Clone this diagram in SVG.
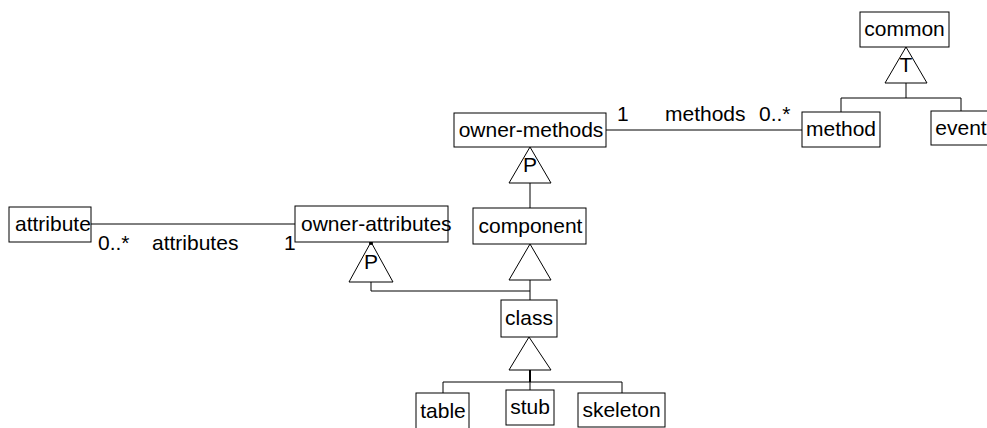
<svg xmlns="http://www.w3.org/2000/svg" width="987" height="428" viewBox="0 0 987 428">
  <style>
    .box { fill: #ffffff; stroke: #000000; stroke-width: 1; }
    .ln { fill: none; stroke: #000000; stroke-width: 1; }
    .tri { fill: #ffffff; stroke: #000000; stroke-width: 1; }
    text { font-family: "Liberation Sans", Arial, sans-serif; font-size: 21px; fill: #000000; }
    .c { text-anchor: middle; }
  </style>
  <rect width="987" height="428" fill="#ffffff"/>

  <!-- connectors -->
  <g id="connectors">
    <!-- common generalisation (T) -->
    <polygon class="tri" points="906,47 885,83 927,83"/>
    <text class="c" x="906" y="72">T</text>
    <polyline class="ln" points="906,83 906,98"/>
    <polyline class="ln" points="841,112 841,98 961,98 961,111"/>

    <!-- methods association -->
    <line class="ln" x1="606" y1="130" x2="802" y2="130"/>
    <text x="617" y="121">1</text>
    <text x="665" y="121">methods</text>
    <text x="759" y="121">0..*</text>

    <!-- owner-methods generalisation (P) -->
    <polygon class="tri" points="530,147 509,183 551,183"/>
    <text class="c" x="530" y="172">P</text>
    <line class="ln" x1="530" y1="183" x2="530" y2="208"/>

    <!-- attributes association -->
    <line class="ln" x1="91" y1="224" x2="295" y2="224"/>
    <text x="98" y="250">0..*</text>
    <text x="152" y="250">attributes</text>
    <text x="284" y="250">1</text>

    <!-- owner-attributes generalisation (P) -->
    <polygon class="tri" points="371,242 349,282 393,282"/>
    <circle cx="371" cy="243" r="2" fill="#000000"/>
    <text class="c" x="371" y="269">P</text>
    <polyline class="ln" points="371,282 371,291 530,291"/>

    <!-- component generalisation -->
    <polygon class="tri" points="530,244 509,280 551,280"/>
    <line class="ln" x1="530" y1="280" x2="530" y2="300"/>

    <!-- class generalisation -->
    <polygon class="tri" points="529,337 509,370 551,370"/>
    <line x1="530" y1="370" x2="530" y2="382" stroke="#000000" stroke-width="2"/>
    <polyline class="ln" points="443,393 443,382 622,382 622,393"/>
    <line class="ln" x1="530" y1="382" x2="530" y2="390"/>
  </g>

  <g id="common">
    <rect class="box" x="860" y="12" width="89" height="35"/>
    <text class="c" x="904.5" y="36">common</text>
  </g>
  <g id="method">
    <rect class="box" x="802" y="112" width="78" height="35"/>
    <text class="c" x="841" y="136">method</text>
  </g>
  <g id="event">
    <rect class="box" x="931" y="111" width="60" height="34"/>
    <text class="c" x="961" y="135">event</text>
  </g>
  <g id="owner-methods">
    <rect class="box" x="454" y="113" width="152" height="34"/>
    <text class="c" x="531" y="137">owner-methods</text>
  </g>
  <g id="component">
    <rect class="box" x="473" y="208" width="113" height="36"/>
    <text class="c" x="530.5" y="233">component</text>
  </g>
  <g id="attribute">
    <rect class="box" x="9" y="207" width="82" height="35"/>
    <text x="15" y="231">attribute</text>
  </g>
  <g id="owner-attributes">
    <rect class="box" x="295" y="206" width="153" height="36"/>
    <text x="301" y="231">owner-attributes</text>
  </g>
  <g id="class">
    <rect class="box" x="501" y="300" width="56" height="37"/>
    <text class="c" x="529" y="325">class</text>
  </g>
  <g id="table">
    <rect class="box" x="416" y="393" width="53" height="40"/>
    <text class="c" x="443" y="418">table</text>
  </g>
  <g id="stub">
    <rect class="box" x="506" y="390" width="48" height="35"/>
    <text class="c" x="530" y="414">stub</text>
  </g>
  <g id="skeleton">
    <rect class="box" x="578" y="393" width="87" height="34"/>
    <text class="c" x="621.5" y="417">skeleton</text>
  </g>
</svg>
